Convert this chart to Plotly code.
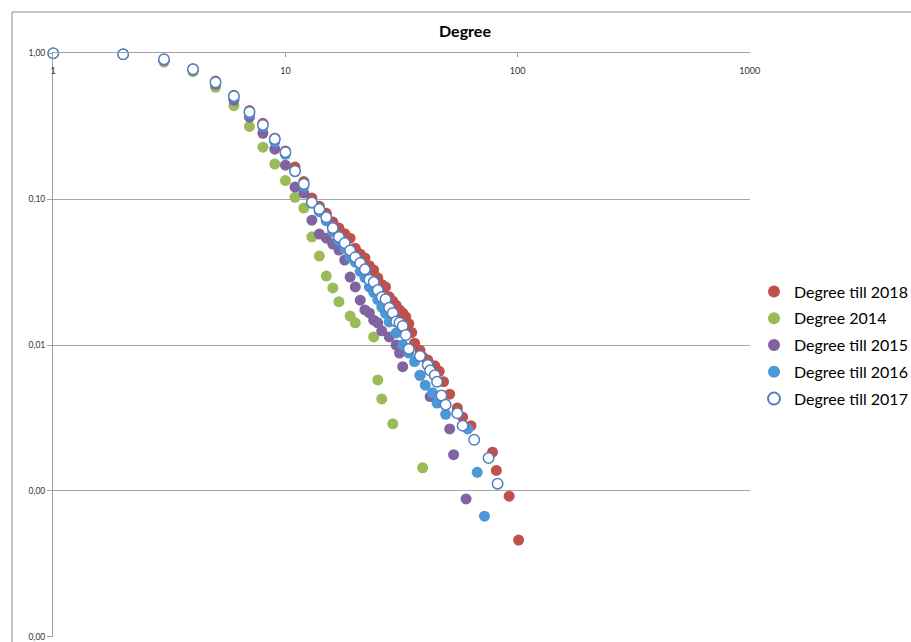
import plotly.graph_objects as go

# ---- data (degree k, fraction of nodes) ----
x_2018 = [1, 2, 3, 4, 5, 6, 7, 8, 9, 10, 11, 12, 13, 14, 15, 16, 17, 18, 19, 20,
          21, 22, 23, 24, 25, 26, 27, 28, 29, 30, 31, 32, 33, 34, 35, 36, 38, 39,
          41, 44, 46, 48, 51, 55, 58, 63, 78, 81, 92, 101]
y_2018 = [1.0, 0.985, 0.91, 0.785, 0.645, 0.515, 0.405, 0.331, 0.262, 0.214, 0.166,
          0.132, 0.102, 0.0894, 0.080, 0.0697, 0.0634, 0.058, 0.054, 0.046, 0.042,
          0.0395, 0.035, 0.0327, 0.0289, 0.026, 0.025, 0.0214, 0.020, 0.0187, 0.0174,
          0.0166, 0.0156, 0.0140, 0.0122, 0.0103, 0.0092, 0.0083, 0.0079, 0.0072,
          0.0066, 0.0056, 0.0046, 0.0037, 0.0032, 0.0028, 0.00184, 0.00138, 0.00092,
          0.00046]

x_2014 = [1, 2, 3, 4, 5, 6, 7, 8, 9, 10, 11, 12, 13, 14, 15, 16, 17, 19, 20, 24,
          25, 26, 29, 39]
y_2014 = [1.0, 0.984, 0.87, 0.75, 0.585, 0.437, 0.315, 0.227, 0.174, 0.134, 0.103,
          0.0868, 0.0552, 0.0407, 0.0297, 0.0246, 0.0198, 0.0158, 0.0142, 0.01135,
          0.00576, 0.00427, 0.00288, 0.00144]

x_2015 = [1, 2, 3, 4, 5, 6, 7, 8, 9, 10, 11, 12, 13, 14, 15, 16, 17, 18, 19, 20,
          21, 22, 23, 24, 25, 26, 28, 30, 31, 32, 38, 42, 51, 53, 60]
y_2015 = [1.0, 0.984, 0.895, 0.765, 0.613, 0.476, 0.365, 0.283, 0.220, 0.171, 0.121,
          0.110, 0.0718, 0.0576, 0.054, 0.0492, 0.0448, 0.0382, 0.0292, 0.025, 0.0203,
          0.0174, 0.0166, 0.0148, 0.0142, 0.0125, 0.01135, 0.0100, 0.0088, 0.0071,
          0.0062, 0.00443, 0.00266, 0.00177, 0.00088]

x_2016 = [1, 2, 3, 4, 5, 6, 7, 8, 9, 10, 11, 12, 13, 14, 15, 16, 17, 18, 19, 20,
          21, 22, 23, 24, 25, 26, 27, 28, 30, 32, 34, 36, 38, 40, 43, 45, 49, 61,
          67, 72]
y_2016 = [1.0, 0.984, 0.905, 0.775, 0.63, 0.50, 0.385, 0.315, 0.248, 0.203, 0.154,
          0.123, 0.094, 0.082, 0.071, 0.060, 0.052, 0.046, 0.040, 0.037, 0.032, 0.029,
          0.025, 0.023, 0.0205, 0.0182, 0.0165, 0.0144, 0.0121, 0.0100, 0.0088,
          0.0077, 0.0062, 0.0053, 0.0047, 0.0040, 0.00335, 0.00266, 0.00134, 0.00067]

x_2017 = [1, 2, 3, 4, 5, 6, 7, 8, 9, 10, 11, 12, 13, 14, 15, 16, 17, 18, 19, 20,
          21, 22, 23, 24, 25, 26, 27, 28, 29, 30, 31, 32, 33, 34, 38, 41, 42, 44,
          45, 47, 49, 55, 58, 65, 75, 82]
y_2017 = [1.0, 0.984, 0.91, 0.777, 0.633, 0.508, 0.396, 0.323, 0.258, 0.210, 0.156,
          0.127, 0.095, 0.0855, 0.075, 0.0633, 0.055, 0.050, 0.0445, 0.040, 0.0365,
          0.033, 0.028, 0.027, 0.0238, 0.0213, 0.0206, 0.018, 0.0166, 0.0145, 0.0142,
          0.0135, 0.0117, 0.0094, 0.0084, 0.0073, 0.0067, 0.0062, 0.0056, 0.0045,
          0.0039, 0.0034, 0.0028, 0.00224, 0.00168, 0.00112]

series_names = ["Degree till 2018", "Degree 2014", "Degree till 2015",
                "Degree till 2016", "Degree till 2017"]

y_tickvals = [1, 0.1, 0.01, 0.001, 0.0001]
y_ticktext = ["1,00", "0,10", "0,01", "0,00", "0,00"]
x_tickvals = [1, 10, 100, 1000]
x_ticktext = ["1", "10", "100", "1000"]

# ---- figure ----
W, H = 911, 642


def fx(p):
    return p / W


def fy(p):
    return (H - p) / H


fig = go.Figure()
styles = [
    dict(color="#C0504D", size=11, line=dict(width=0)),
    dict(color="#9BBB59", size=11, line=dict(width=0)),
    dict(color="#8064A2", size=11, line=dict(width=0)),
    dict(color="#4A98D8", size=11, line=dict(width=0)),
    dict(color="#FFFFFF", size=10.5, line=dict(width=1.5, color="#4F7FC0")),
]
data = [(x_2018, y_2018), (x_2014, y_2014), (x_2015, y_2015),
        (x_2016, y_2016), (x_2017, y_2017)]
for i, ((xs, ys), name, st) in enumerate(zip(data, series_names, styles)):
    fig.add_trace(go.Scatter(
        x=xs, y=ys, mode="markers", name=name, marker=st,
        cliponaxis=False, legendgroup=f"g{i}"))

fig.update_layout(
    width=W, height=H,
    margin=dict(l=0, r=0, t=0, b=0, autoexpand=False),
    paper_bgcolor="white", plot_bgcolor="white",
    font=dict(family="Lato, Open Sans, sans-serif", color="#000000"),
    title=dict(text="<b>Degree</b>", x=fx(465), xref="container", xanchor="center",
               y=fy(31), yref="container", yanchor="middle", automargin=False,
               font=dict(size=16, color="#000000")),
    showlegend=True,
    legend=dict(x=fx(754), y=fy(345), xanchor="left", yanchor="middle",
                font=dict(size=16, color="#000000"), tracegroupgap=3,
                traceorder="grouped", bgcolor="rgba(0,0,0,0)", itemsizing="constant"),
    xaxis=dict(type="log", range=[-0.001, 3.001], domain=[fx(53), fx(750)],
               automargin=False,
               side="top", ticklabelposition="inside", ticklabeloverflow="allow",
               ticklabelstandoff=10,
               tickvals=x_tickvals, ticktext=x_ticktext,
               tickfont=dict(size=9, color="#333333"),
               showgrid=False, zeroline=False, showline=True, linecolor="#a0a0a0",
               linewidth=1, ticks="inside", ticklen=4, tickcolor="#a0a0a0"),
    yaxis=dict(type="log", range=[-4.002, 0.002], domain=[fy(637), fy(53)],
               automargin=False,
               tickvals=y_tickvals, ticktext=y_ticktext,
               tickfont=dict(size=8.5, color="#333333"),
               showgrid=True, gridcolor="#a6a6a6", gridwidth=1, zeroline=False,
               showline=True, linecolor="#a0a0a0", linewidth=1,
               ticks="outside", ticklen=5, tickcolor="#a0a0a0"),
    shapes=[
        dict(type="line", xref="paper", yref="paper",
             x0=fx(12), x1=fx(915), y0=fy(12), y1=fy(12),
             line=dict(color="#8c8c8c", width=1)),
        dict(type="line", xref="paper", yref="paper",
             x0=fx(12), x1=fx(12), y0=fy(12), y1=fy(650),
             line=dict(color="#8c8c8c", width=1)),
    ],
)

fig.write_html("out.html",
               config={"displayModeBar": False},
               post_script="document.body.style.margin='0';"
                           "document.body.style.overflow='hidden';")
